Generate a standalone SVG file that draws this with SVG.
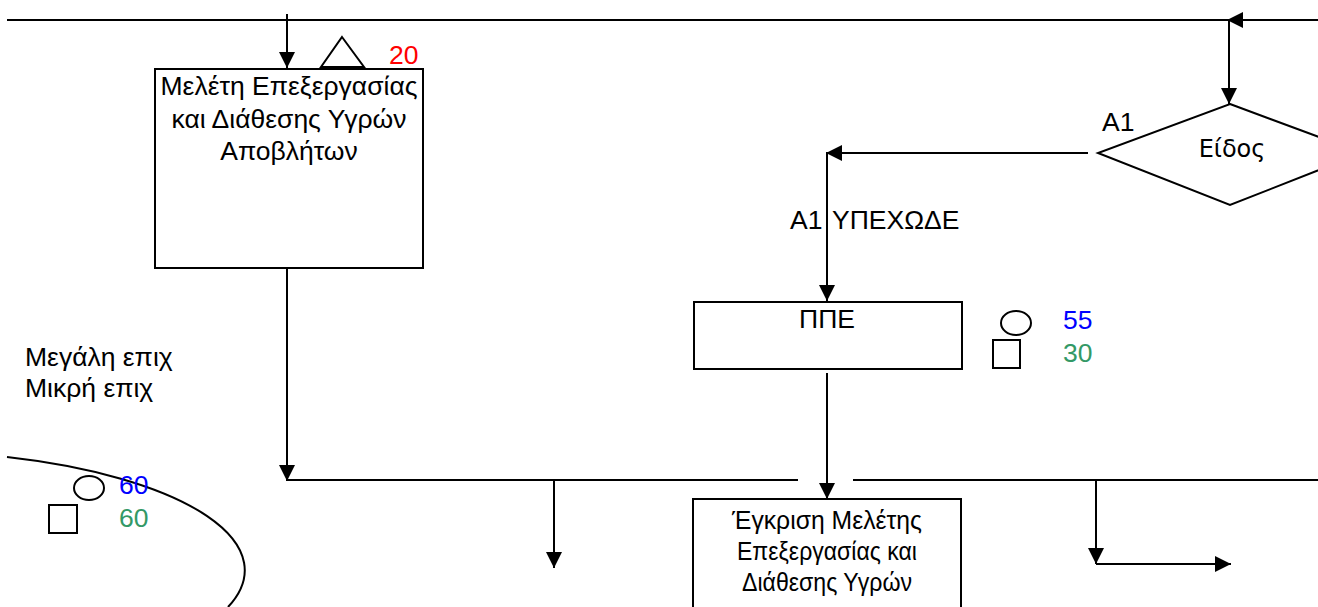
<svg xmlns="http://www.w3.org/2000/svg" width="1318" height="607" viewBox="0 0 1318 607">
<style>
.ln{stroke:#000;stroke-width:2;fill:none}
.arr{stroke:#000;stroke-width:2;fill:none;marker-end:url(#ah)}
.bx{stroke:#000;stroke-width:2;fill:#fff}
.sh{stroke:#000;stroke-width:2;fill:none}
text{font-family:"Liberation Sans",Arial,sans-serif;font-size:26.5px;fill:#000}
.c{text-anchor:middle}
.red{fill:#ff0000}
.blue{fill:#0000ff}
.green{fill:#339966}
.dj{font-family:"DejaVu Sans",Verdana,sans-serif;font-size:24px}
</style>
<defs>
<marker id="ah" markerUnits="userSpaceOnUse" markerWidth="16" markerHeight="16" refX="15" refY="7.5" orient="auto" viewBox="0 0 15 15">
<path d="M0,0 L15,7.5 L0,15 z" fill="#000"/>
</marker>
</defs>
<rect width="1318" height="607" fill="#fff"/>
<g id="connectors">
<line class="ln" x1="7" y1="20" x2="1318" y2="20"/>
<line class="arr" x1="287" y1="14" x2="287" y2="68"/>
<line class="arr" x1="1318" y1="20" x2="1227" y2="20"/>
<line class="arr" x1="1229" y1="20" x2="1229" y2="104"/>
<line class="arr" x1="1088" y1="153" x2="826" y2="153"/>
<line class="arr" x1="827" y1="153" x2="827" y2="301"/>
<line class="arr" x1="287" y1="268" x2="287" y2="481"/>
<line class="ln" x1="287" y1="480" x2="798" y2="480"/>
<line class="ln" x1="853" y1="480" x2="1318" y2="480"/>
<line class="arr" x1="554" y1="480" x2="554" y2="568"/>
<line class="arr" x1="827" y1="373" x2="827" y2="499"/>
<line class="arr" x1="1096" y1="480" x2="1096" y2="564"/>
<line class="arr" x1="1096" y1="564" x2="1231" y2="564"/>
</g>
<g id="node-meleti">
<rect class="bx" x="155" y="69" width="268" height="199"/>
<text class="c" x="289" y="95">Μελέτη Επεξεργασίας</text>
<text class="c" x="289" y="128">και Διάθεσης Υγρών</text>
<text class="c" x="289" y="160">Αποβλήτων</text>
</g>
<g id="node-triangle-20">
<polygon class="sh" points="342,37 364,67 321,67"/>
<text class="red" x="389" y="64">20</text>
</g>
<g id="node-eidos">
<polygon class="bx" points="1230,104 1362,153 1230,205 1098,153"/>
<text class="c dj" x="1232" y="157">Είδος</text>
<text x="1102" y="131">A1</text>
</g>
<g id="label-a1-ypexode">
<text><tspan x="790" y="229">A1</tspan><tspan x="832" y="229">ΥΠΕΧΩΔΕ</tspan></text>
</g>
<g id="node-ppe">
<rect class="bx" x="694" y="302" width="268" height="67"/>
<text class="c" x="827" y="328">ΠΠΕ</text>
</g>
<g id="node-ppe-marks">
<ellipse class="sh" cx="1016" cy="323" rx="15" ry="12"/>
<rect class="sh" x="993" y="340" width="27" height="28"/>
<text class="blue" x="1063" y="329">55</text>
<text class="green" x="1063" y="362">30</text>
</g>
<g id="node-labels-epix">
<text x="25" y="366">Μεγάλη επιχ</text>
<text x="25" y="397">Μικρή επιχ</text>
</g>
<g id="node-curve">
<path class="sh" d="M7,457 A343,119 0 0 1 228,607"/>
<ellipse class="sh" cx="89" cy="488" rx="15" ry="12"/>
<rect class="sh" x="49" y="505" width="28" height="28"/>
<text class="blue" x="119" y="494">60</text>
<text class="green" x="119" y="527">60</text>
</g>
<g id="node-egkrisi">
<rect class="bx" x="693" y="499" width="268" height="120"/>
<text class="c" x="827" y="529" textLength="190" lengthAdjust="spacingAndGlyphs">Έγκριση Μελέτης</text>
<text class="c" x="827" y="560" textLength="180" lengthAdjust="spacingAndGlyphs">Επεξεργασίας και</text>
<text class="c" x="827" y="591" textLength="170" lengthAdjust="spacingAndGlyphs">Διάθεσης Υγρών</text>
</g>
</svg>
